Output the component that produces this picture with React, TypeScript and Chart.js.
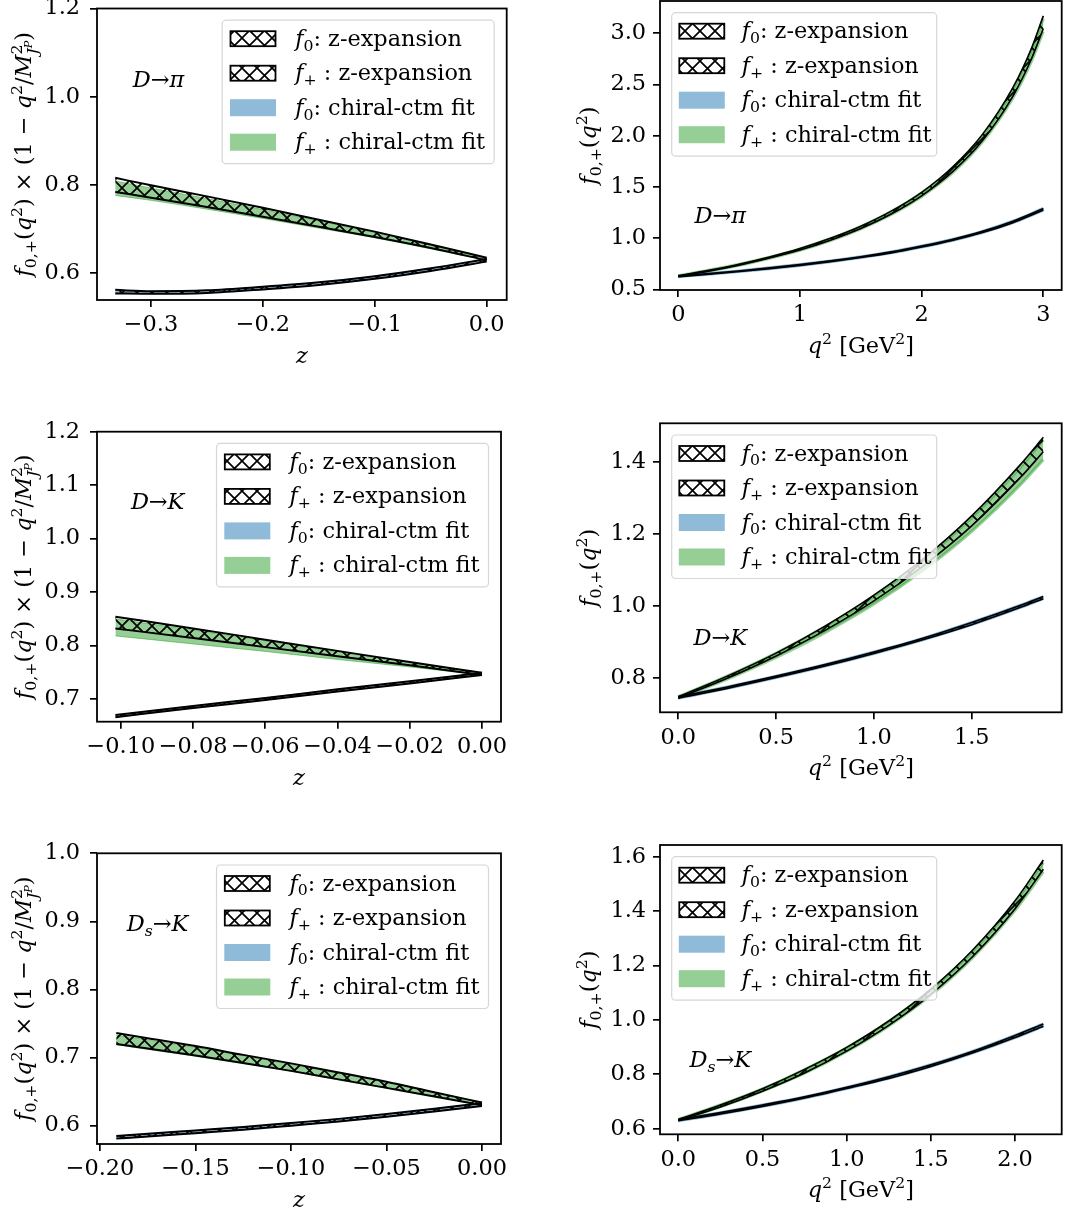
import React, { useEffect, useRef } from 'react';
import { Chart, registerables } from 'chart.js';

Chart.register(...registerables);

// ---------------- DATA ----------------
// Panel 1: D→π, vs z
const DPI_Z_X = [-0.332, -0.3, -0.25, -0.2, -0.15, -0.1, -0.05, 0];
const DPI_Z_FP_ZEXP_LO = [0.784, 0.771, 0.750, 0.728, 0.705, 0.682, 0.657, 0.629];
const DPI_Z_FP_ZEXP_HI = [0.816, 0.799, 0.774, 0.748, 0.721, 0.694, 0.665, 0.635];
const DPI_Z_FP_CHI_LO = [0.776, 0.765, 0.745, 0.724, 0.702, 0.680, 0.655, 0.629];
const DPI_Z_FP_CHI_HI = [0.809, 0.793, 0.769, 0.744, 0.718, 0.692, 0.663, 0.635];
const DPI_Z_F0_ZEXP_LO = [0.554, 0.553, 0.555, 0.563, 0.573, 0.587, 0.605, 0.626];
const DPI_Z_F0_ZEXP_HI = [0.562, 0.559, 0.561, 0.569, 0.579, 0.593, 0.611, 0.632];
const DPI_Z_F0_CHI_LO = [0.555, 0.553, 0.555, 0.563, 0.573, 0.587, 0.605, 0.626];
const DPI_Z_F0_CHI_HI = [0.561, 0.559, 0.561, 0.569, 0.579, 0.593, 0.611, 0.632];

// Panel 2: D→π, vs q²
const DPI_Q_X = [0, 0.25, 0.5, 0.75, 1.0, 1.25, 1.5, 1.75, 2.0, 2.25, 2.5, 2.75, 2.9, 3.0];
const DPI_Q_FP_ZEXP_LO = [0.629, 0.680, 0.738, 0.808, 0.886, 0.982, 1.096, 1.237, 1.415, 1.645, 1.954, 2.388, 2.744, 3.046];
const DPI_Q_FP_ZEXP_HI = [0.635, 0.688, 0.748, 0.818, 0.900, 1.000, 1.118, 1.265, 1.449, 1.691, 2.014, 2.470, 2.846, 3.170];
const DPI_Q_FP_CHI_LO = [0.629, 0.680, 0.737, 0.806, 0.883, 0.978, 1.093, 1.232, 1.408, 1.635, 1.941, 2.369, 2.720, 3.019];
const DPI_Q_FP_CHI_HI = [0.635, 0.688, 0.747, 0.816, 0.897, 0.996, 1.115, 1.260, 1.442, 1.681, 2.001, 2.451, 2.822, 3.143];
const DPI_Q_F0_ZEXP_LO = [0.626, 0.650, 0.676, 0.704, 0.736, 0.772, 0.813, 0.858, 0.915, 0.979, 1.056, 1.153, 1.225, 1.276];
const DPI_Q_F0_ZEXP_HI = [0.632, 0.656, 0.682, 0.712, 0.744, 0.780, 0.821, 0.868, 0.925, 0.989, 1.068, 1.167, 1.239, 1.292];
const DPI_Q_F0_CHI_LO = [0.626, 0.650, 0.676, 0.704, 0.736, 0.772, 0.813, 0.858, 0.915, 0.979, 1.056, 1.153, 1.225, 1.276];
const DPI_Q_F0_CHI_HI = [0.632, 0.656, 0.682, 0.712, 0.744, 0.780, 0.821, 0.868, 0.925, 0.989, 1.068, 1.167, 1.239, 1.292];

// Panel 3: D→K, vs z
const DK_Z_X = [-0.1015, -0.08, -0.06, -0.04, -0.02, 0];
const DK_Z_FP_ZEXP_LO = [0.832, 0.814, 0.797, 0.780, 0.763, 0.745];
const DK_Z_FP_ZEXP_HI = [0.854, 0.832, 0.811, 0.790, 0.769, 0.749];
const DK_Z_FP_CHI_LO = [0.818, 0.803, 0.789, 0.774, 0.760, 0.745];
const DK_Z_FP_CHI_HI = [0.850, 0.829, 0.809, 0.788, 0.768, 0.749];
const DK_Z_F0_ZEXP_LO = [0.666, 0.683, 0.698, 0.714, 0.729, 0.745];
const DK_Z_F0_ZEXP_HI = [0.670, 0.687, 0.702, 0.718, 0.733, 0.749];
const DK_Z_F0_CHI_LO = [0.666, 0.683, 0.698, 0.714, 0.729, 0.745];
const DK_Z_F0_CHI_HI = [0.670, 0.687, 0.702, 0.718, 0.733, 0.749];

// Panel 4: D→K, vs q²
const DK_Q_X = [0, 0.25, 0.5, 0.75, 1.0, 1.25, 1.5, 1.75, 1.866];
const DK_Q_FP_ZEXP_LO = [0.745, 0.800, 0.862, 0.933, 1.015, 1.111, 1.223, 1.358, 1.429];
const DK_Q_FP_ZEXP_HI = [0.749, 0.806, 0.870, 0.945, 1.031, 1.131, 1.251, 1.394, 1.469];
const DK_Q_FP_CHI_LO = [0.745, 0.798, 0.858, 0.927, 1.006, 1.099, 1.208, 1.338, 1.407];
const DK_Q_FP_CHI_HI = [0.749, 0.806, 0.870, 0.943, 1.028, 1.127, 1.246, 1.387, 1.462];
const DK_Q_F0_ZEXP_LO = [0.745, 0.772, 0.802, 0.834, 0.869, 0.907, 0.949, 0.997, 1.021];
const DK_Q_F0_ZEXP_HI = [0.749, 0.776, 0.806, 0.838, 0.873, 0.911, 0.955, 1.003, 1.027];
const DK_Q_F0_CHI_LO = [0.745, 0.772, 0.802, 0.834, 0.869, 0.907, 0.949, 0.997, 1.021];
const DK_Q_F0_CHI_HI = [0.749, 0.776, 0.806, 0.838, 0.873, 0.911, 0.955, 1.003, 1.027];

// Panel 5: Ds→K, vs z
const DSK_Z_X = [-0.1915, -0.175, -0.15, -0.125, -0.1, -0.075, -0.05, -0.025, 0];
const DSK_Z_FP_ZEXP_LO = [0.720, 0.7135, 0.703, 0.692, 0.6805, 0.668, 0.6555, 0.643, 0.630];
const DSK_Z_FP_ZEXP_HI = [0.736, 0.7285, 0.717, 0.704, 0.6915, 0.678, 0.6645, 0.649, 0.634];
const DSK_Z_FP_CHI_LO = [0.719, 0.712, 0.702, 0.691, 0.680, 0.667, 0.655, 0.643, 0.630];
const DSK_Z_FP_CHI_HI = [0.733, 0.726, 0.715, 0.703, 0.690, 0.677, 0.664, 0.649, 0.634];
const DSK_Z_F0_ZEXP_LO = [0.581, 0.584, 0.589, 0.594, 0.600, 0.606, 0.613, 0.621, 0.629];
const DSK_Z_F0_ZEXP_HI = [0.585, 0.588, 0.593, 0.598, 0.604, 0.610, 0.617, 0.625, 0.633];
const DSK_Z_F0_CHI_LO = [0.581, 0.584, 0.589, 0.594, 0.600, 0.606, 0.613, 0.621, 0.629];
const DSK_Z_F0_CHI_HI = [0.585, 0.588, 0.593, 0.598, 0.604, 0.610, 0.617, 0.625, 0.633];

// Panel 6: Ds→K, vs q²
const DSK_Q_X = [0, 0.25, 0.5, 0.75, 1.0, 1.25, 1.5, 1.75, 2.0, 2.168];
const DSK_Q_FP_ZEXP_LO = [0.630, 0.680, 0.738, 0.805, 0.885, 0.980, 1.094, 1.234, 1.409, 1.554];
const DSK_Q_FP_ZEXP_HI = [0.634, 0.687, 0.747, 0.818, 0.899, 0.996, 1.113, 1.258, 1.438, 1.588];
const DSK_Q_FP_CHI_LO = [0.630, 0.680, 0.738, 0.804, 0.884, 0.978, 1.091, 1.230, 1.403, 1.545];
const DSK_Q_FP_CHI_HI = [0.634, 0.687, 0.746, 0.817, 0.897, 0.994, 1.110, 1.253, 1.432, 1.578];
const DSK_Q_F0_ZEXP_LO = [0.629, 0.654, 0.682, 0.713, 0.748, 0.785, 0.829, 0.879, 0.935, 0.977];
const DSK_Q_F0_ZEXP_HI = [0.633, 0.659, 0.687, 0.717, 0.752, 0.791, 0.835, 0.885, 0.943, 0.985];
const DSK_Q_F0_CHI_LO = [0.629, 0.654, 0.682, 0.713, 0.748, 0.785, 0.829, 0.879, 0.935, 0.977];
const DSK_Q_F0_CHI_HI = [0.633, 0.659, 0.687, 0.717, 0.752, 0.791, 0.835, 0.885, 0.943, 0.985];

// Ticks
const DPI_Z_XTICKS = [-0.3, -0.2, -0.1, 0.0];
const DPI_Z_XLABELS = ['\u22120.3', '\u22120.2', '\u22120.1', '0.0'];
const DPI_Z_YTICKS = [0.6, 0.8, 1.0, 1.2];
const DPI_Z_YLABELS = ['0.6', '0.8', '1.0', '1.2'];
const DPI_Q_XTICKS = [0, 1, 2, 3];
const DPI_Q_XLABELS = ['0', '1', '2', '3'];
const DPI_Q_YTICKS = [0.5, 1.0, 1.5, 2.0, 2.5, 3.0];
const DPI_Q_YLABELS = ['0.5', '1.0', '1.5', '2.0', '2.5', '3.0'];
const DK_Z_XTICKS = [-0.10, -0.08, -0.06, -0.04, -0.02, 0.0];
const DK_Z_XLABELS = ['\u22120.10', '\u22120.08', '\u22120.06', '\u22120.04', '\u22120.02', '0.00'];
const DK_Z_YTICKS = [0.7, 0.8, 0.9, 1.0, 1.1, 1.2];
const DK_Z_YLABELS = ['0.7', '0.8', '0.9', '1.0', '1.1', '1.2'];
const DK_Q_XTICKS = [0, 0.5, 1.0, 1.5];
const DK_Q_XLABELS = ['0.0', '0.5', '1.0', '1.5'];
const DK_Q_YTICKS = [0.8, 1.0, 1.2, 1.4];
const DK_Q_YLABELS = ['0.8', '1.0', '1.2', '1.4'];
const DSK_Z_XTICKS = [-0.20, -0.15, -0.10, -0.05, 0.0];
const DSK_Z_XLABELS = ['\u22120.20', '\u22120.15', '\u22120.10', '\u22120.05', '0.00'];
const DSK_Z_YTICKS = [0.6, 0.7, 0.8, 0.9, 1.0];
const DSK_Z_YLABELS = ['0.6', '0.7', '0.8', '0.9', '1.0'];
const DSK_Q_XTICKS = [0, 0.5, 1.0, 1.5, 2.0];
const DSK_Q_XLABELS = ['0.0', '0.5', '1.0', '1.5', '2.0'];
const DSK_Q_YTICKS = [0.6, 0.8, 1.0, 1.2, 1.4, 1.6];
const DSK_Q_YLABELS = ['0.6', '0.8', '1.0', '1.2', '1.4', '1.6'];

// ---------------- STYLE / TEXT ----------------
const FONT = '"DejaVu Serif", serif';
const FS = 22.4;
const BLUE = 'rgba(31,119,180,0.5)';
const GREEN = 'rgba(44,160,44,0.5)';

type Seg = { t: string; it?: boolean; s?: number; dy?: number; stack?: boolean; follow?: boolean };
const sub = (t: string, it = false): Seg => ({ t, s: 0.7, dy: 0.22, it });
const sup = (t: string): Seg => ({ t, s: 0.7, dy: -0.42 });

const Y_TITLE_Z: Seg[] = [
  { t: 'f', it: true }, sub('0,+'), { t: '(' }, { t: 'q', it: true }, sup('2'),
  { t: ') \u00d7 (1 \u2212 ' }, { t: 'q', it: true }, sup('2'), { t: '/' }, { t: 'M', it: true },
  sup('2'), { t: 'J', it: true, s: 0.7, dy: 0.3, stack: true }, { t: 'P', it: true, s: 0.5, dy: 0.05, follow: true },
  { t: ')' },
];
const Y_TITLE_Q: Seg[] = [{ t: 'f', it: true }, sub('0,+'), { t: '(' }, { t: 'q', it: true }, sup('2'), { t: ')' }];
const X_TITLE_Z: Seg[] = [{ t: 'z', it: true }];
const X_TITLE_Q: Seg[] = [{ t: 'q', it: true }, sup('2'), { t: ' [GeV' }, sup('2'), { t: ']' }];
const ANN_DPI: Seg[] = [{ t: 'D', it: true }, { t: '\u2192' }, { t: '\u03c0', it: true }];
const ANN_DK: Seg[] = [{ t: 'D', it: true }, { t: '\u2192' }, { t: 'K', it: true }];
const ANN_DSK: Seg[] = [{ t: 'D', it: true }, sub('s', true), { t: '\u2192' }, { t: 'K', it: true }];
const LEGEND_LABELS: Seg[][] = [
  [{ t: 'f', it: true }, sub('0'), { t: ': z-expansion' }],
  [{ t: 'f', it: true }, sub('+'), { t: ' : z-expansion' }],
  [{ t: 'f', it: true }, sub('0'), { t: ': chiral-ctm fit' }],
  [{ t: 'f', it: true }, sub('+'), { t: ' : chiral-ctm fit' }],
];

function layoutRich(ctx: CanvasRenderingContext2D, segs: Seg[], size: number) {
  let cursor = 0, lastStart = 0, lastEnd = 0;
  const items: { seg: Seg; x: number; font: string }[] = [];
  for (const seg of segs) {
    const fs = size * (seg.s ?? 1);
    const font = `${seg.it ? 'italic ' : ''}${fs}px ${FONT}`;
    ctx.font = font;
    const w = ctx.measureText(seg.t).width;
    const start = seg.stack ? lastStart : seg.follow ? lastEnd : cursor;
    items.push({ seg, x: start, font });
    lastStart = start;
    lastEnd = start + w;
    cursor = Math.max(cursor, lastEnd);
  }
  return { items, width: cursor };
}

function drawRich(ctx: CanvasRenderingContext2D, segs: Seg[], x: number, y: number, size: number, align: string) {
  const { items, width } = layoutRich(ctx, segs, size);
  const x0 = align === 'center' ? x - width / 2 : align === 'right' ? x - width : x;
  ctx.textAlign = 'left';
  ctx.textBaseline = 'alphabetic';
  ctx.fillStyle = '#000';
  for (const it of items) {
    ctx.font = it.font;
    ctx.fillText(it.seg.t, x0 + it.x, y + (it.seg.dy ?? 0) * size);
  }
}

function makeHatch(): CanvasPattern | string {
  const P = 15;
  const c = document.createElement('canvas');
  c.width = P; c.height = P;
  const g = c.getContext('2d');
  if (!g) return 'rgba(0,0,0,0)';
  g.strokeStyle = '#000';
  g.lineWidth = 1.7;
  g.beginPath();
  for (let k = -1; k <= 1; k++) {
    g.moveTo(k * P, 0); g.lineTo(k * P + P, P);
    g.moveTo(k * P + P, 0); g.lineTo(k * P, P);
  }
  g.stroke();
  return g.createPattern(c, 'repeat') || 'rgba(0,0,0,0)';
}

type PanelSpec = {
  plot: [number, number, number, number];
  xr: [number, number]; yr: [number, number];
  xTicks: number[]; xLabels: string[]; yTicks: number[]; yLabels: string[];
  x: number[];
  f0zLo: number[]; f0zHi: number[]; fpzLo: number[]; fpzHi: number[];
  f0cLo: number[]; f0cHi: number[]; fpcLo: number[]; fpcHi: number[];
  left: boolean; annot: Seg[];
};

const PANELS: PanelSpec[] = [
  {
    plot: [97, 8.5, 506.7, 300], xr: [-0.3483, 0.0179], yr: [0.539, 1.2],
    xTicks: DPI_Z_XTICKS, xLabels: DPI_Z_XLABELS, yTicks: DPI_Z_YTICKS, yLabels: DPI_Z_YLABELS,
    x: DPI_Z_X, f0zLo: DPI_Z_F0_ZEXP_LO, f0zHi: DPI_Z_F0_ZEXP_HI, fpzLo: DPI_Z_FP_ZEXP_LO, fpzHi: DPI_Z_FP_ZEXP_HI,
    f0cLo: DPI_Z_F0_CHI_LO, f0cHi: DPI_Z_F0_CHI_HI, fpcLo: DPI_Z_FP_CHI_LO, fpcHi: DPI_Z_FP_CHI_HI,
    left: true, annot: ANN_DPI,
  },
  {
    plot: [660, 1, 1061.7, 290], xr: [-0.15, 3.151], yr: [0.496, 3.315],
    xTicks: DPI_Q_XTICKS, xLabels: DPI_Q_XLABELS, yTicks: DPI_Q_YTICKS, yLabels: DPI_Q_YLABELS,
    x: DPI_Q_X, f0zLo: DPI_Q_F0_ZEXP_LO, f0zHi: DPI_Q_F0_ZEXP_HI, fpzLo: DPI_Q_FP_ZEXP_LO, fpzHi: DPI_Q_FP_ZEXP_HI,
    f0cLo: DPI_Q_F0_CHI_LO, f0cHi: DPI_Q_F0_CHI_HI, fpcLo: DPI_Q_FP_CHI_LO, fpcHi: DPI_Q_FP_CHI_HI,
    left: false, annot: ANN_DPI,
  },
  {
    plot: [97, 431.7, 501, 721.7], xr: [-0.1066, 0.00526], yr: [0.6575, 1.2],
    xTicks: DK_Z_XTICKS, xLabels: DK_Z_XLABELS, yTicks: DK_Z_YTICKS, yLabels: DK_Z_YLABELS,
    x: DK_Z_X, f0zLo: DK_Z_F0_ZEXP_LO, f0zHi: DK_Z_F0_ZEXP_HI, fpzLo: DK_Z_FP_ZEXP_LO, fpzHi: DK_Z_FP_ZEXP_HI,
    f0cLo: DK_Z_F0_CHI_LO, f0cHi: DK_Z_F0_CHI_HI, fpcLo: DK_Z_FP_CHI_LO, fpcHi: DK_Z_FP_CHI_HI,
    left: true, annot: ANN_DK,
  },
  {
    plot: [660, 423.3, 1061.7, 712.3], xr: [-0.0936, 1.96], yr: [0.7056, 1.508],
    xTicks: DK_Q_XTICKS, xLabels: DK_Q_XLABELS, yTicks: DK_Q_YTICKS, yLabels: DK_Q_YLABELS,
    x: DK_Q_X, f0zLo: DK_Q_F0_ZEXP_LO, f0zHi: DK_Q_F0_ZEXP_HI, fpzLo: DK_Q_FP_ZEXP_LO, fpzHi: DK_Q_FP_ZEXP_HI,
    f0cLo: DK_Q_F0_CHI_LO, f0cHi: DK_Q_F0_CHI_HI, fpcLo: DK_Q_FP_CHI_LO, fpcHi: DK_Q_FP_CHI_HI,
    left: false, annot: ANN_DK,
  },
  {
    plot: [97, 853.3, 501, 1144], xr: [-0.2016, 0.00995], yr: [0.5731, 1.0],
    xTicks: DSK_Z_XTICKS, xLabels: DSK_Z_XLABELS, yTicks: DSK_Z_YTICKS, yLabels: DSK_Z_YLABELS,
    x: DSK_Z_X, f0zLo: DSK_Z_F0_ZEXP_LO, f0zHi: DSK_Z_F0_ZEXP_HI, fpzLo: DSK_Z_FP_ZEXP_LO, fpzHi: DSK_Z_FP_ZEXP_HI,
    f0cLo: DSK_Z_F0_CHI_LO, f0cHi: DSK_Z_F0_CHI_HI, fpcLo: DSK_Z_FP_CHI_LO, fpcHi: DSK_Z_FP_CHI_HI,
    left: true, annot: ANN_DSK,
  },
  {
    plot: [660, 845, 1061.7, 1134.3], xr: [-0.1087, 2.277], yr: [0.5794, 1.643],
    xTicks: DSK_Q_XTICKS, xLabels: DSK_Q_XLABELS, yTicks: DSK_Q_YTICKS, yLabels: DSK_Q_YLABELS,
    x: DSK_Q_X, f0zLo: DSK_Q_F0_ZEXP_LO, f0zHi: DSK_Q_F0_ZEXP_HI, fpzLo: DSK_Q_FP_ZEXP_LO, fpzHi: DSK_Q_FP_ZEXP_HI,
    f0cLo: DSK_Q_F0_CHI_LO, f0cHi: DSK_Q_F0_CHI_HI, fpcLo: DSK_Q_FP_CHI_LO, fpcHi: DSK_Q_FP_CHI_HI,
    left: false, annot: ANN_DSK,
  },
];

const pts = (xs: number[], ys: number[]) => xs.map((x, i) => ({ x, y: ys[i] }));

function band(xs: number[], lo: number[], hi: number[], fill: any, border: string, bw: number, order: number) {
  const common = { pointRadius: 0, cubicInterpolationMode: 'monotone', borderColor: border, borderWidth: bw, backgroundColor: fill, order };
  return [
    { ...common, data: pts(xs, lo), fill: false },
    { ...common, data: pts(xs, hi), fill: '-1' },
  ];
}

function Panel({ spec }: { spec: PanelSpec }) {
  const ref = useRef<HTMLCanvasElement>(null);
  const [L, T, R, B] = spec.plot;
  const cx = Math.floor(L - 110);
  const cy = Math.floor(T - 30);
  const cw = Math.ceil(R + 16 - cx);
  const ch = Math.ceil(B + 80 - cy);

  useEffect(() => {
    const canvas = ref.current;
    if (!canvas) return;
    const hatch = makeHatch();
    const padTop = T - cy;
    const padRight = cx + cw - R;
    const yW = L - cx;
    const xH = cy + ch - B;
    const tickFont = { family: FONT, size: FS };
    const yPad = spec.left ? 10 : 7;
    const edgeW = spec.left ? 2.0 : 1.6;
    const chiEdge = spec.left ? 1.0 : 3.0;

    const datasets: any[] = [
      ...band(spec.x, spec.f0cLo, spec.f0cHi, BLUE, BLUE, chiEdge, 3),
      ...band(spec.x, spec.fpcLo, spec.fpcHi, GREEN, GREEN, chiEdge, 3),
      ...band(spec.x, spec.f0zLo, spec.f0zHi, hatch, '#000', edgeW, 1),
      ...band(spec.x, spec.fpzLo, spec.fpzHi, hatch, '#000', edgeW, 0),
    ];

    const decor = {
      id: 'decor',
      afterDraw(chart: any) {
        const ctx: CanvasRenderingContext2D = chart.ctx;
        const a = chart.chartArea;
        const aw = a.right - a.left;
        const ah = a.bottom - a.top;
        ctx.save();
        ctx.strokeStyle = '#000';
        ctx.lineWidth = 1.8;
        ctx.strokeRect(a.left, a.top, aw, ah);

        // annotation
        drawRich(ctx, spec.annot, a.left + 0.15 * aw, a.top + (spec.left ? 0.268 : 0.768) * ah, FS, 'center');

        // x title
        drawRich(ctx, spec.left ? X_TITLE_Z : X_TITLE_Q, (a.left + a.right) / 2, a.bottom + 63, FS, 'center');

        // y title
        ctx.save();
        ctx.translate(a.left - (spec.left ? 66 : 64), (a.top + a.bottom) / 2);
        ctx.rotate(-Math.PI / 2);
        drawRich(ctx, spec.left ? Y_TITLE_Z : Y_TITLE_Q, 0, 0, FS, 'center');
        ctx.restore();

        // legend
        const bw = spec.left ? 272 : 265;
        const bh = 143.5;
        const bx = spec.left ? a.right - 12.5 - bw : a.left + 11.7;
        const by = a.top + 11.7;
        ctx.beginPath();
        const r = 4;
        ctx.moveTo(bx + r, by);
        ctx.arcTo(bx + bw, by, bx + bw, by + bh, r);
        ctx.arcTo(bx + bw, by + bh, bx, by + bh, r);
        ctx.arcTo(bx, by + bh, bx, by, r);
        ctx.arcTo(bx, by, bx + bw, by, r);
        ctx.closePath();
        ctx.fillStyle = 'rgba(255,255,255,0.8)';
        ctx.fill();
        ctx.strokeStyle = '#d6d6d6';
        ctx.lineWidth = 1.2;
        ctx.stroke();

        const px = bx + (spec.left ? 8.3 : 7.6);
        const tx = bx + (spec.left ? 73 : 70);
        for (let i = 0; i < 4; i++) {
          const cyr = by + 18.5 + i * 34.5;
          if (i < 2) {
            ctx.fillStyle = hatch as any;
            ctx.fillRect(px, cyr - 7.5, 45, 15);
            ctx.strokeStyle = '#000';
            ctx.lineWidth = 1.8;
            ctx.strokeRect(px, cyr - 7.5, 45, 15);
          } else {
            ctx.fillStyle = i === 2 ? BLUE : GREEN;
            ctx.fillRect(px - 0.5, cyr - 8.5, 46, 17);
          }
          drawRich(ctx, LEGEND_LABELS[i], tx, cyr + 7, FS, 'left');
        }
        ctx.restore();
      },
    };

    const chart = new Chart(canvas, {
      type: 'line',
      data: { datasets },
      options: {
        animation: false,
        responsive: false,
        maintainAspectRatio: false,
        devicePixelRatio: 1,
        events: [],
        layout: { padding: { left: 0, top: padTop, right: padRight, bottom: 0 } },
        plugins: { legend: { display: false }, tooltip: { enabled: false }, title: { display: false } },
        scales: {
          x: {
            type: 'linear',
            position: 'bottom',
            min: spec.xr[0],
            max: spec.xr[1],
            afterFit: (s: any) => { s.height = xH; },
            afterBuildTicks: (s: any) => { s.ticks = spec.xTicks.map((v) => ({ value: v })); },
            ticks: {
              callback: (_v: any, i: number) => spec.xLabels[i],
              font: tickFont, color: '#000', padding: 5, maxRotation: 0, autoSkip: false,
            },
            grid: { drawOnChartArea: false, drawTicks: true, tickLength: 7, color: '#000', lineWidth: 1.7 },
            border: { display: false },
          },
          y: {
            type: 'linear',
            position: 'left',
            min: spec.yr[0],
            max: spec.yr[1],
            afterFit: (s: any) => { s.width = yW; },
            afterBuildTicks: (s: any) => { s.ticks = spec.yTicks.map((v) => ({ value: v })); },
            ticks: {
              callback: (_v: any, i: number) => spec.yLabels[i],
              font: tickFont, color: '#000', padding: yPad, autoSkip: false,
            },
            grid: { drawOnChartArea: false, drawTicks: true, tickLength: 7, color: '#000', lineWidth: 1.7 },
            border: { display: false },
          },
        },
      } as any,
      plugins: [decor],
    });
    return () => chart.destroy();
  }, []);

  return (
    <canvas
      ref={ref}
      width={cw}
      height={ch}
      style={{ position: 'absolute', left: cx, top: cy, width: cw, height: ch }}
    />
  );
}

export default function App() {
  return (
    <div style={{ position: 'absolute', left: 0, top: 0, width: 1076, height: 1213, background: '#fff', overflow: 'hidden' }}>
      {PANELS.map((p, i) => (
        <Panel key={i} spec={p} />
      ))}
    </div>
  );
}
